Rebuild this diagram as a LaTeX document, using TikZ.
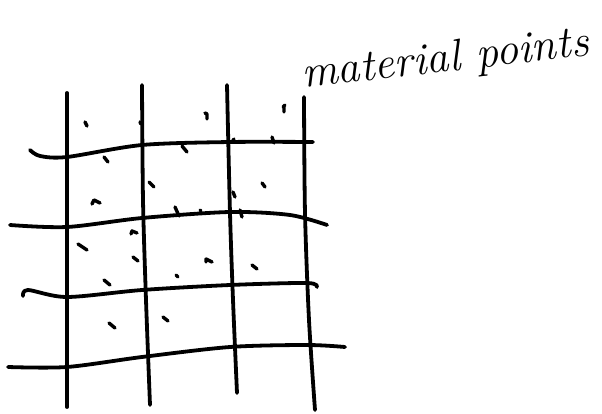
\documentclass[tikz,border=0pt]{standalone}
\usepackage{tikz}

\begin{document}
\begin{tikzpicture}[x=1pt, y=-1pt, line cap=round, line join=round,
    gridline/.style = {line width=3.8pt, black},
    matpt/.style = {line width=3.4pt, black}]
        \useasboundingbox (0,0) rectangle (602,414);
        % vertical grid lines
        \draw[gridline] plot[smooth] coordinates {(67,93) (67,250) (67,407)};
        \draw[gridline] plot[smooth] coordinates {(142,85) (143,200) (146,300) (150,405)};
        \draw[gridline] plot[smooth] coordinates {(227,85) (230,213) (233,300) (237,393)};
        \draw[gridline] plot[smooth] coordinates {(304,97) (305,213) (309,320) (315,410)};
        % horizontal grid lines
        \draw[gridline] plot[smooth] coordinates {(30,150) (40,156) (67,157) (142,145) (230,142) (313,142)};
        \draw[gridline] plot[smooth] coordinates {(10,225) (67,227) (142,218) (230,212) (290,215) (327,225)};
        \draw[gridline] plot[smooth] coordinates {(23,296) (28,290) (67,297) (142,290) (230,285) (307,283) (317,287)};
        \draw[gridline] plot[smooth] coordinates {(8,367) (67,367) (142,357) (230,347) (307,345) (345,347)};
        % material points
        \draw[matpt] (85,122) -- (87,126);
        \draw[matpt] (140,122) -- (141,124);
        \draw[matpt] (205,113) -- (207,114) -- (207,119);
        \draw[matpt] (283,107) -- (285,105) (284,106) -- (284,112);
        \draw[matpt] (104,157) -- (108,162);
        \draw[matpt] (182,146) -- (187,152);
        \draw[matpt] (232,142) -- (234,139);
        \draw[matpt] (272,137) -- (274,143);
        \draw[matpt] (149,182) -- (154,187);
        \draw[matpt] (262,183) -- (265,187);
        \draw[matpt] (233,192) -- (235,197);
        \draw[matpt] (92,204) -- (94,200) -- (100,203);
        \draw[matpt] (175,207) -- (179,216);
        \draw[matpt] (200,210) -- (201,211);
        \draw[matpt] (240,210) -- (242,217);
        \draw[matpt] (131,234) -- (132,231) -- (137,233);
        \draw[matpt] (78,244) -- (87,250);
        \draw[matpt] (133,257) -- (138,261);
        \draw[matpt] (206,262) -- (206,259) -- (212,262);
        \draw[matpt] (176,275) -- (178,277);
        \draw[matpt] (252,265) -- (257,269);
        \draw[matpt] (104,280) -- (110,285);
        \draw[matpt] (109,323) -- (115,328);
        \draw[matpt] (163,317) -- (168,321);
        % label
        \node[rotate=6.5, anchor=base west, inner sep=0pt] (label) at (303,88)
            {\fontsize{45}{45}\selectfont\itshape material points};
\end{tikzpicture}
\end{document}
